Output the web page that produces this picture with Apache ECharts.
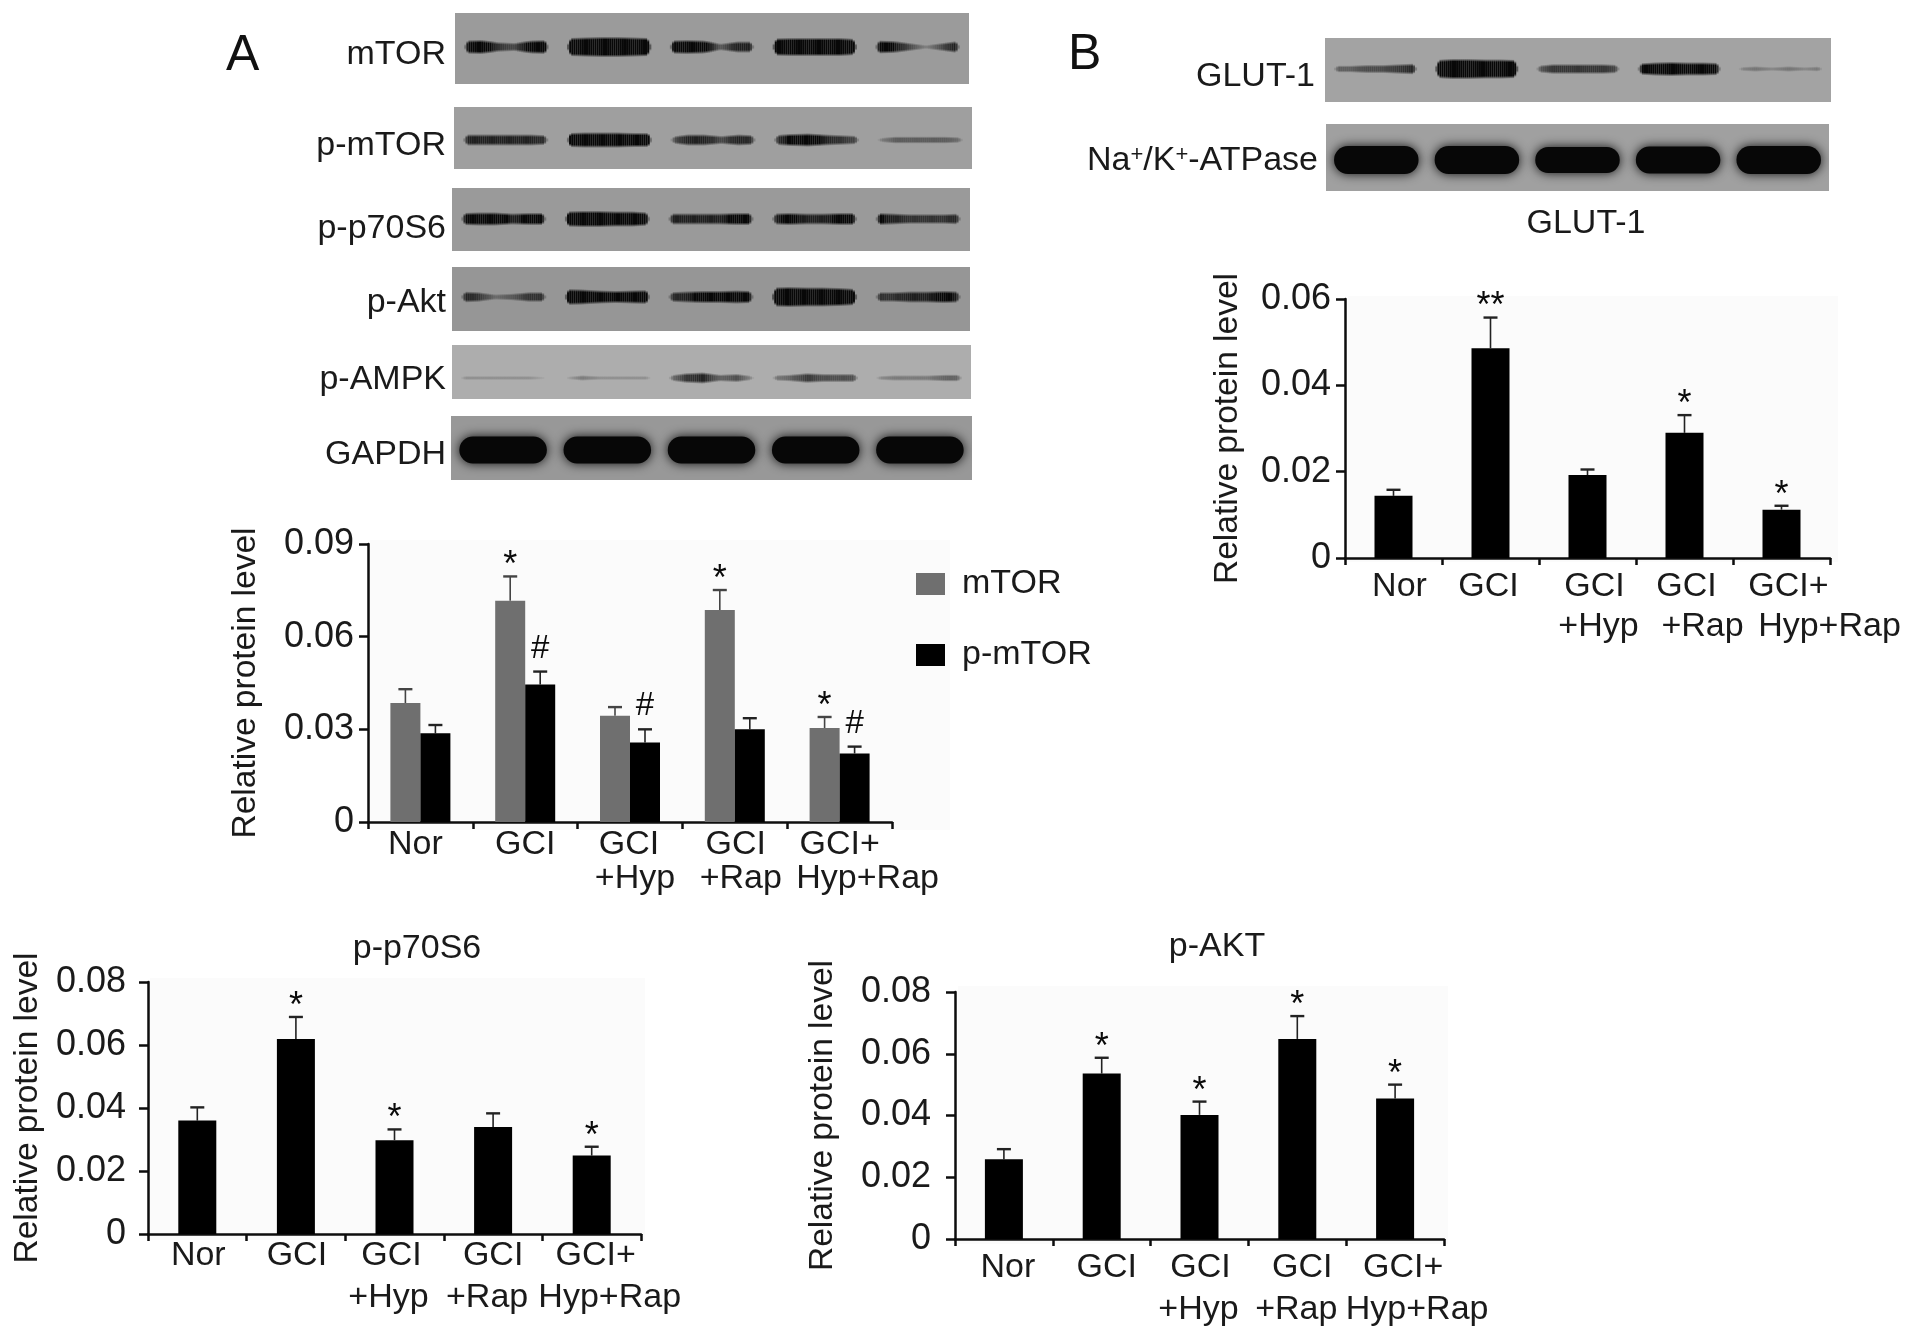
<!DOCTYPE html>
<html><head><meta charset="utf-8">
<style>html,body{margin:0;padding:0;background:#fff}#c{width:1913px;height:1340px;filter:blur(0.6px)}</style>
<script src="https://cdn.jsdelivr.net/npm/echarts@6/dist/echarts.min.js"></script>
</head><body><div id="c"></div>
<script>
// ---------- data ----------
const categoryLines = [['Nor'],['GCI'],['GCI','+Hyp'],['GCI','+Rap'],['GCI+','Hyp+Rap']];
const yLabel = 'Relative protein level';
const ticksA = ['0','0.03','0.06','0.09'];
const ticksOther = ['0','0.02','0.04','0.06','0.08'];
const ticksB = ['0','0.02','0.04','0.06'];

const mtorMean = [0.0385,0.0716,0.0344,0.0686,0.0304];
const mtorUpper = [0.0430,0.0795,0.0372,0.0751,0.0340];
const mtorMarks = ['','*','','*','*'];
const pmtorMean = [0.0287,0.0445,0.0257,0.0300,0.0222];
const pmtorUpper = [0.0314,0.0487,0.0300,0.0336,0.0244];
const pmtorMarks = ['','#','#','','#'];
const p70Mean = [0.0360,0.0619,0.0298,0.0340,0.0249];
const p70Upper = [0.0402,0.0689,0.0332,0.0383,0.0277];
const p70Marks = ['','*','*','','*'];
const aktMean = [0.0258,0.0536,0.0402,0.0648,0.0455];
const aktUpper = [0.0291,0.0587,0.0445,0.0722,0.0500];
const aktMarks = ['','*','*','*','*'];
const glutMean = [0.0144,0.0486,0.0192,0.0290,0.0112];
const glutUpper = [0.0158,0.0557,0.0205,0.0331,0.0121];
const glutMarks = ['','**','','*','*'];

// western-blot band thickness, six samples across each of the five lanes
const blotMtor = [[8,9,5,4,8,9],[13,14,15,15,14,13],[8,9,8,3,6,6],[12,13,13,13,13,11],[8,7,4,1,4,7]];
const blotPmtor = [[6,6,6,6,6,5],[9,10,10,10,9,9],[3,6,6,4,6,5],[5,7,8,6,5,4],[1,3,3,3,3,2]];
const blotP70 = [[7,8,8,6,7,7],[10,11,11,10,10,8],[6,6,6,6,7,7],[6,7,6,6,7,7],[7,6,5,5,5,6]];
const blotAkt = [[6,5,2,3,5,5],[11,10,8,7,8,9],[5,6,7,7,8,7],[14,15,14,14,13,11],[5,5,6,6,7,6]];
const blotAmpk = [[1,1,1,1,1,0],[0,2,1,1,1,1],[2,5,6,3,4,1],[2,3,5,4,4,4],[1,2,2,2,3,3]];
const blotGapdh = [[27,27,27,27,27,27],[27,27,27,27,27,27],[27,27,27,27,27,27],[27,27,27,27,27,27],[27,27,27,27,27,27]];
const blotGlut = [[3,3,4,4,5,6],[13,15,15,14,14,13],[3,5,5,5,5,4],[6,8,9,8,8,7],[1,2,1,2,1,2]];
const blotAtpase = [[28,28,28,28,28,28],[28,28,28,28,28,28],[26,26,26,26,26,26],[27,27,27,27,27,27],[28,28,28,28,28,28]];

// ---------- layout & style ----------
const FONT = '"Liberation Sans", Arial, sans-serif';
const FS = 34, TICK_FS = 36, NAME_FS = 33.5;
const INK = '#1a1a1a';
const AXIS = '#0d0d0d';

const grids = [], xAxes = [], yAxes = [], series = [], graphics = [], titles = [];

function richFor(prefix, shifts, lh){
  const rich = {};
  shifts.forEach((line,i)=>line.forEach((s,j)=>{
    rich[prefix+i+'_'+j] = {fontFamily:FONT,fontSize:FS,color:INK,lineHeight:lh,
      padding:[0,s<0?-2*s:0,0,s>0?2*s:0]};
  }));
  return rich;
}
function addChart(cfg){
  const idx = grids.length;
  grids.push({left:cfg.x0,top:cfg.y1,width:cfg.x1-cfg.x0,height:cfg.y0-cfg.y1,containLabel:false});
  const prefix='c'+idx+'l';
  xAxes.push({gridIndex:idx,type:'category',data:categoryLines.map(l=>l.join(' ')),
    axisLine:{lineStyle:{color:AXIS,width:2.5}},
    axisTick:{show:true,length:7,lineStyle:{color:AXIS,width:2.5}},
    axisLabel:{interval:0,margin:cfg.labelMargin,hideOverlap:false,
      fontFamily:FONT,fontSize:FS,color:INK,
      rich:richFor(prefix,cfg.shifts,cfg.lh),
      formatter:(v,i)=>categoryLines[i].map((t,j)=>'{'+prefix+i+'_'+j+'|'+t+'}').join('\n')}});
  const n = cfg.ticks.length-1;
  yAxes.push({gridIndex:idx,type:'value',min:0,max:cfg.max,interval:cfg.max/n,
    name:yLabel,nameLocation:'middle',nameGap:cfg.nameGap,nameRotate:90,
    nameTextStyle:{fontFamily:FONT,fontSize:NAME_FS,color:INK},
    splitLine:{show:false},
    axisLine:{show:true,lineStyle:{color:AXIS,width:2.5}},
    axisTick:{show:true,length:9,lineStyle:{color:AXIS,width:2.5}},
    axisLabel:{margin:cfg.tickMargin,fontFamily:FONT,fontSize:TICK_FS,color:INK,
      formatter:v=>cfg.ticks[Math.round(v/(cfg.max/n))]}});
  cfg.series.forEach(s=>{
    series.push({type:'bar',name:s.name,xAxisIndex:idx,yAxisIndex:idx,data:s.mean,
      barWidth:cfg.barWidth,barGap:0,itemStyle:{color:s.color},silent:true,z:3});
  });
  cfg.series.forEach((s,k)=>{
    const off = cfg.series.length===1?0:(k===0?-cfg.barWidth/2:cfg.barWidth/2);
    series.push({type:'custom',name:s.name+' error',xAxisIndex:idx,yAxisIndex:idx,silent:true,z:2,
      encode:{x:0,y:[1,2]},data:s.mean.map((v,i)=>[i,v,s.upper[i]]),
      renderItem:(p,api)=>{
        const a=api.coord([api.value(0),api.value(1)]), b=api.coord([api.value(0),api.value(2)]);
        const x=a[0]+off, c=s.errColor||'#222';
        return {type:'group',children:[
          {type:'line',shape:{x1:x,y1:a[1],x2:x,y2:b[1]},style:{stroke:c,lineWidth:1.6}},
          {type:'line',shape:{x1:x-7,y1:b[1],x2:x+7,y2:b[1]},style:{stroke:c,lineWidth:2.4}}]};
      }});
    series.push({type:'custom',name:s.name+' significance',xAxisIndex:idx,yAxisIndex:idx,silent:true,z:4,
      encode:{x:0,y:1},data:s.upper.map((v,i)=>[i,v]),
      renderItem:(p,api)=>{
        const m=s.marks[p.dataIndex];
        if(!m) return null;
        const a=api.coord([api.value(0),api.value(1)]);
        const hash=m==='#';
        return {type:'text',style:{x:a[0]+off,y:a[1]-(hash?23:10),text:m,align:'center',verticalAlign:'middle',
          font:(hash?'33px ':'36px ')+FONT,fill:'#0a0a0a'}};
      }});
  });
}
function bandSlices(c,W,sam){
  const M=40, out=[], sw=W/M;
  for(let i=0;i<M;i++){
    const u=(i+0.5)/M, f=u*(sam.length-1), k=Math.min(sam.length-2,Math.floor(f)), r=f-k;
    const taper=Math.min(1,u/0.05,(1-u)/0.05);
    const t=(sam[k]*(1-r)+sam[k+1]*r)*taper;
    if(t<=0.05) continue;
    const pad=Math.min(3,1.5+t/4), h=t+2*pad, raw=0.04+t/7.5, al=raw>=0.9?1:raw, e=pad/h;
    out.push({type:'rect',shape:{x:c[0]-W/2+i*sw,y:c[1]-h/2,width:sw,height:h},
      style:{fill:new echarts.graphic.LinearGradient(0,0,0,1,[
        {offset:0,color:'rgba(8,8,8,0)'},{offset:e,color:'rgba(8,8,8,'+al+')'},
        {offset:1-e,color:'rgba(8,8,8,'+al+')'},{offset:1,color:'rgba(8,8,8,0)'}])}});
  }
  return out;
}
function addBlot(cfg){
  const idx = grids.length;
  grids.push({left:cfg.x,top:cfg.y,width:cfg.w,height:cfg.h,show:true,backgroundColor:cfg.bg,borderWidth:0,containLabel:false});
  xAxes.push({gridIndex:idx,type:'category',show:false,data:[0,1,2,3,4]});
  yAxes.push({gridIndex:idx,type:'value',show:false,min:0,max:1});
  const thick = cfg.data[0][0]>18;
  series.push({type:'custom',name:cfg.label+' blot',xAxisIndex:idx,yAxisIndex:idx,silent:true,z:2,clip:true,
    encode:{x:0,y:1},data:cfg.data.map((l,i)=>[i,1-(cfg.band-cfg.y)/cfg.h]),
    renderItem:(p,api)=>{
      const c=api.coord([api.value(0),api.value(1)]);
      const sam=cfg.data[p.dataIndex];
      const W=api.size([1,0])[0]*(thick?0.84:0.82);
      if(thick){
        const h=sam[0];
        return {type:'rect',shape:{x:c[0]-W/2,y:c[1]-h/2,width:W,height:h,r:h/2},
          style:{fill:'#070707',shadowBlur:11,shadowColor:'rgba(0,0,0,.9)'}};
      }
      return {type:'group',children:bandSlices(c,W,sam)};
    }});
  graphics.push({type:'text',x:cfg.labelX,y:cfg.labelY,z:10,silent:true,
    style:cfg.richLabel?{text:cfg.richLabel,align:'right',verticalAlign:'middle',font:FS+'px '+FONT,fill:INK,
      rich:{sup:{fontFamily:FONT,fontSize:22,fill:INK,verticalAlign:'top',padding:[0,0,10,0]},t:{fontFamily:FONT,fontSize:FS,fill:INK}}}
      :{text:cfg.label,align:'right',verticalAlign:'middle',font:FS+'px '+FONT,fill:INK}});
}

// faint off-white backdrop behind the plots
[[370,540,580,290],[150,978,495,262],[958,986,490,258],[1348,296,490,266]].forEach(r=>{
  graphics.push({type:'rect',z:-1,silent:true,shape:{x:r[0],y:r[1],width:r[2],height:r[3]},style:{fill:'#fbfbfb'}});
});

addBlot({label:'mTOR',data:blotMtor,x:455,y:13,w:514,h:71,band:47,bg:'#9b9b9b',labelX:446,labelY:55});
addBlot({label:'p-mTOR',data:blotPmtor,x:454,y:107,w:518,h:62,band:140,bg:'#9f9f9f',labelX:446,labelY:146});
addBlot({label:'p-p70S6',data:blotP70,x:452,y:188,w:518,h:63,band:219,bg:'#9a9a9a',labelX:446,labelY:229});
addBlot({label:'p-Akt',data:blotAkt,x:452,y:267,w:518,h:64,band:297,bg:'#969696',labelX:446,labelY:303});
addBlot({label:'p-AMPK',data:blotAmpk,x:452,y:345,w:519,h:54,band:378,bg:'#adadad',labelX:446,labelY:380});
addBlot({label:'GAPDH',data:blotGapdh,x:451,y:416,w:521,h:64,band:450,bg:'#989898',labelX:446,labelY:455});
addBlot({label:'GLUT-1',data:blotGlut,x:1325,y:38,w:506,h:64,band:69,bg:'#a3a3a3',labelX:1315,labelY:77});
addBlot({label:'Na+/K+-ATPase',richLabel:'{t|Na}{sup|+}{t|/K}{sup|+}{t|-ATPase}',data:blotAtpase,x:1326,y:124,w:503,h:67,band:160,bg:'#a0a0a0',labelX:1318,labelY:161});

addChart({x0:368,x1:892,y0:822,y1:544,max:0.09,ticks:ticksA,barWidth:30,nameGap:105,labelMargin:6,tickMargin:14,lh:34,
  shifts:[[-5],[0],[-1,5],[1,6],[0,28]],
  series:[{name:'mTOR',mean:mtorMean,upper:mtorUpper,marks:mtorMarks,color:'#6f6f6f',errColor:'#444'},
          {name:'p-mTOR',mean:pmtorMean,upper:pmtorUpper,marks:pmtorMarks,color:'#000'}]});
addChart({x0:148,x1:641,y0:1234,y1:982,max:0.08,ticks:ticksOther,barWidth:38,nameGap:103,labelMargin:1,tickMargin:22,lh:42,
  shifts:[[1],[1],[-3,-6],[0,-6],[4,18]],
  series:[{name:'p-p70S6',mean:p70Mean,upper:p70Upper,marks:p70Marks,color:'#000'}]});
addChart({x0:955,x1:1444,y0:1239,y1:992,max:0.08,ticks:ticksOther,barWidth:38,nameGap:115,labelMargin:8,tickMargin:24,lh:42,
  shifts:[[4],[5],[1,-1],[5,-1],[8,22]],
  series:[{name:'p-AKT',mean:aktMean,upper:aktUpper,marks:aktMarks,color:'#000'}]});
addChart({x0:1345,x1:1830,y0:558,y1:299,max:0.06,ticks:ticksB,barWidth:38,nameGap:100,labelMargin:9,tickMargin:14,lh:40,
  shifts:[[6],[-2],[7,11],[2,18],[7,48]],
  series:[{name:'GLUT-1',mean:glutMean,upper:glutUpper,marks:glutMarks,color:'#000'}]});

const titleStyle={fontFamily:FONT,fontSize:FS,fontWeight:'normal',color:INK};
titles.push({text:'p-p70S6',left:412,top:944,textAlign:'center',textVerticalAlign:'middle',textStyle:titleStyle});
titles.push({text:'p-AKT',left:1212,top:942,textAlign:'center',textVerticalAlign:'middle',textStyle:titleStyle});
titles.push({text:'GLUT-1',left:1581,top:219,textAlign:'center',textVerticalAlign:'middle',textStyle:titleStyle});

graphics.push({type:'text',x:226,y:56,z:10,silent:true,style:{text:'A',verticalAlign:'middle',font:'50px '+FONT,fill:'#111'}});
graphics.push({type:'text',x:1068,y:55,z:10,silent:true,style:{text:'B',verticalAlign:'middle',font:'50px '+FONT,fill:'#111'}});

const chart = echarts.init(document.getElementById('c'),null,{renderer:'canvas',width:1913,height:1340});
chart.setOption({
  animation:false,backgroundColor:'#fff',
  title:titles,grid:grids,xAxis:xAxes,yAxis:yAxes,series,
  graphic:{elements:graphics},
  legend:{orient:'vertical',left:911,top:562,itemWidth:29,itemHeight:22,itemGap:37,icon:'rect',data:['mTOR','p-mTOR'],selectedMode:false,
    textStyle:{fontFamily:FONT,fontSize:FS,color:INK,padding:[0,0,0,12]}}
});
</script></body></html>
